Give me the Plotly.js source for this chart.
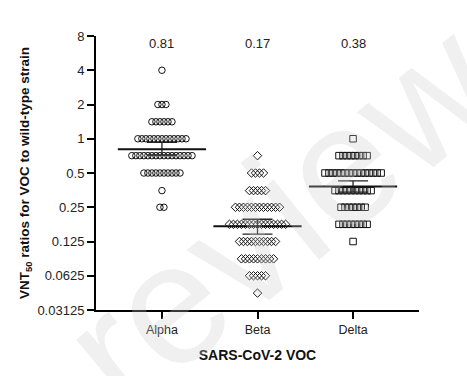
<!DOCTYPE html>
<html>
<head>
<meta charset="utf-8">
<script src="https://cdn.plot.ly/plotly-3.0.1.min.js"></script>
<style>html,body{margin:0;padding:0;background:#fff;}#chart{width:467px;height:376px;}</style>
</head>
<body>
<div id="chart"></div>
<script>
// ---- data ----
const categories = ['Alpha', 'Beta', 'Delta'];
const alphaLevels = [4, 2, 1.41, 1, 0.71, 0.5, 0.35, 0.25];
const alphaCounts = [1, 3, 6, 13, 16, 10, 1, 2];
const betaLevels = [0.71, 0.5, 0.35, 0.25, 0.177, 0.125, 0.088, 0.0625, 0.044];
const betaCounts = [1, 4, 5, 12, 15, 10, 9, 5, 1];
const deltaLevels = [1, 0.71, 0.5, 0.35, 0.25, 0.177, 0.125];
const deltaCounts = [1, 8, 15, 10, 7, 8, 1];
const meanValues = [0.81, 0.17, 0.38];
const upperValues = [0.93, 0.196, 0.426];
const lowerValues = [0.72, 0.145, 0.34];
const meanLabels = ['0.81', '0.17', '0.38'];
const yTickVals = [8, 4, 2, 1, 0.5, 0.25, 0.125, 0.0625, 0.03125];
const yTickText = ['8', '4', '2', '1', '0.5', '0.25', '0.125', '0.0625', '0.03125'];

const symbols = ['circle-open', 'diamond-open', 'square-open'];
const spacing = 0.042;

function swarm(idx, levels, counts) {
  const xs = [], ys = [];
  levels.forEach((lv, k) => {
    const n = counts[k];
    for (let i = 0; i < n; i++) {
      xs.push(idx + (i - (n - 1) / 2) * spacing);
      ys.push(lv);
    }
  });
  return {x: xs, y: ys};
}

const sets = [
  swarm(0, alphaLevels, alphaCounts),
  swarm(1, betaLevels, betaCounts),
  swarm(2, deltaLevels, deltaCounts)
];

const traces = sets.map((s, i) => ({
  type: 'scatter', mode: 'markers', x: s.x, y: s.y,
  marker: {symbol: symbols[i], size: 6.5, color: '#111', line: {color: '#111', width: 1}},
  hoverinfo: 'skip', showlegend: false, cliponaxis: false
}));

// error bars
traces.push({
  type: 'scatter', mode: 'markers', x: [0, 1, 2], y: meanValues,
  marker: {size: 1, color: 'rgba(0,0,0,0)'},
  error_y: {type: 'data', symmetric: false,
    array: upperValues.map((u, i) => u - meanValues[i]),
    arrayminus: lowerValues.map((l, i) => meanValues[i] - l),
    width: 15, thickness: 1.3, color: '#222'},
  showlegend: false, hoverinfo: 'skip'
});
// mean lines
traces.push({
  type: 'scatter', mode: 'markers', x: [0, 1, 2], y: meanValues,
  marker: {symbol: 'line-ew', size: 63, color: '#111', line: {color: '#111', width: 2}},
  showlegend: false, hoverinfo: 'skip'
});

const annotations = meanLabels.map((t, i) => ({
  x: i, y: 1, xref: 'x', yref: 'paper', yanchor: 'top', yshift: 2,
  text: t, showarrow: false,
  font: {family: 'Liberation Sans, Arial, sans-serif', size: 13, color: '#222'}
}));
annotations.push({
  x: 0.57, y: 0.35, xref: 'paper', yref: 'paper',
  text: 'review', showarrow: false, textangle: -39,
  font: {family: 'Liberation Sans, Arial, sans-serif', size: 172, color: 'rgba(200,200,200,0.28)'}
});

const layout = {
  width: 467, height: 376,
  margin: {l: 96, r: 48, t: 36, b: 66},
  paper_bgcolor: '#fff', plot_bgcolor: '#fff',
  font: {family: 'Liberation Sans, Arial, sans-serif', color: '#222'},
  xaxis: {
    range: [-0.69, 2.69], tickvals: [0, 1, 2], ticktext: categories,
    showline: true, linecolor: '#000', linewidth: 2, mirror: false,
    ticks: 'outside', ticklen: 7, tickwidth: 2, tickcolor: '#000',
    showgrid: false, zeroline: false,
    tickfont: {size: 12.5, color: '#222'},
    title: {text: '<b>SARS-CoV-2 VOC</b>', font: {size: 14, color: '#111'}, standoff: 14}
  },
  yaxis: {
    type: 'log', range: [Math.log10(0.03125), Math.log10(8)],
    tickvals: yTickVals, ticktext: yTickText,
    showline: true, linecolor: '#000', linewidth: 2,
    ticks: 'outside', ticklen: 7, tickwidth: 2, tickcolor: '#000',
    showgrid: false, zeroline: false,
    tickfont: {size: 13, color: '#222'},
    title: {text: '<b>VNT<sub>50</sub> ratios for VOC to wild-type strain</b>', font: {size: 13.5, color: '#111'}, standoff: 5}
  },
  annotations: annotations,
  showlegend: false
};

Plotly.newPlot('chart', traces, layout, {staticPlot: true, displayModeBar: false});
</script>
</body>
</html>
